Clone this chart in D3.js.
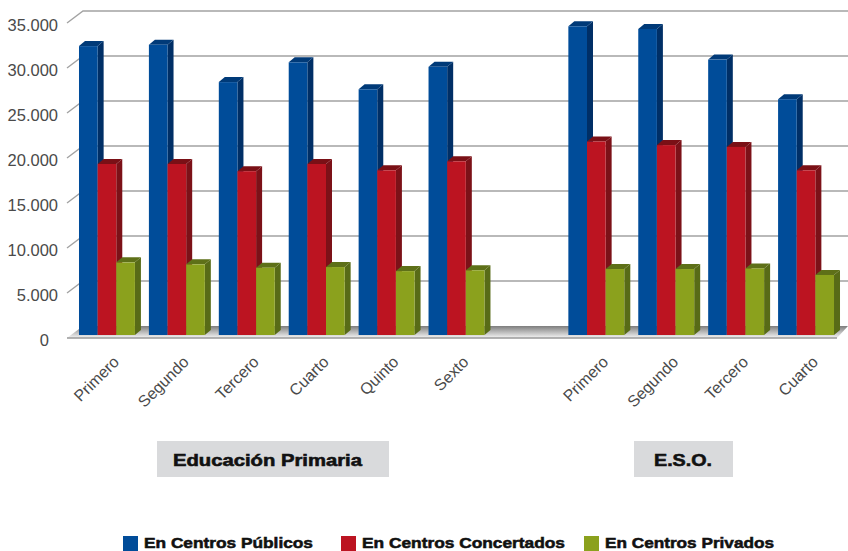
<!DOCTYPE html>
<html>
<head>
<meta charset="utf-8">
<title>Alumnado por curso</title>
<script src="https://d3js.org/d3.v7.min.js"></script>
<style>
  html, body { margin: 0; padding: 0; background: #fff; }
  svg { display: block; }
  .tick-y { font: 300 16.5px "Liberation Sans", sans-serif; fill: #4a4a4a; }
  .tick-x { font: 300 16px "Liberation Sans", sans-serif; fill: #4a4a4a; }
  .head { font: bold 17px "Liberation Sans", sans-serif; fill: #111; stroke: #111; stroke-width: .6px; }
  .leg { font: bold 15px "Liberation Sans", sans-serif; fill: #111; stroke: #111; stroke-width: .55px; }
</style>
</head>
<body>
<svg id="chart" width="848" height="551"></svg>
<script>
// a blank slot separates primaria from E.S.O.
const slots = ["p1", "p2", "p3", "p4", "p5", "p6", "gap", "e1", "e2", "e3", "e4"];
const slotLabels = ["Primero", "Segundo", "Tercero", "Cuarto", "Quinto", "Sexto", "", "Primero", "Segundo", "Tercero", "Cuarto"];
const publicos    = [32100, 32250, 28100, 30300, 27300, 29800, null, 34300, 34000, 30600, 26200];
const concertados = [19000, 19000, 18200, 19000, 18300, 19300, null, 21500, 21100, 20900, 18300];
const privados    = [8070, 7850, 7480, 7550, 7100, 7190, null, 7330, 7330, 7400, 6670];
const yTicks = [0, 5000, 10000, 15000, 20000, 25000, 30000, 35000];
const seriesNames = ["En Centros Públicos", "En Centros Concertados", "En Centros Privados"];
const seriesFront = ["#004c99", "#bc1421", "#8ba11d"];
const seriesTop   = ["#003a78", "#7a1016", "#5e7018"];
const seriesSide  = ["#002f66", "#7c1118", "#586b17"];
const groupNames = ["Educación Primaria", "E.S.O."];

const svg = d3.select("#chart");

const dx = 6, dy = 5;      // bar depth
const wallDx = 16, wallDy = 12; // floor depth

const x = d3.scaleBand().domain(slots).range([72, 841]).paddingInner(0.2).paddingOuter(0.1);
const inner = d3.scaleBand().domain([0, 1, 2]).range([0, x.bandwidth()]);
// bars stand on y0, the gridlines are on the back wall
const y = d3.scaleLinear().domain([0, 35000]).range([335, 20]);
const yBack = d3.scaleLinear().domain([0, 35000]).range([326, 11]);

const defs = svg.append("defs");
const grad = defs.append("linearGradient").attr("id", "floor").attr("x1", 0).attr("y1", 0).attr("x2", 0).attr("y2", 1);
grad.append("stop").attr("offset", 0).attr("stop-color", "#7d7d7d");
grad.append("stop").attr("offset", 0.35).attr("stop-color", "#a8a8a8");
grad.append("stop").attr("offset", 1).attr("stop-color", "#f4f4f4");

const floorLeft = 67, floorRight = 837, gridColor = "#a3a3a3";

// floor
svg.append("polygon")
  .attr("fill", "url(#floor)")
  .attr("points", [
    [floorLeft, yBack(0) + wallDy], [floorLeft + wallDx, yBack(0)],
    [floorRight + wallDx - 5, yBack(0)], [floorRight, yBack(0) + wallDy]
  ].join(" "));

// gridlines with the slanted stub at the left
svg.append("g").selectAll("path")
  .data(yTicks)
  .join("path")
  .attr("fill", "none")
  .attr("stroke", d => d === 0 ? "#999" : gridColor)
  .attr("stroke-width", 1.4)
  .attr("d", d => d === 0
    ? `M${floorLeft},${yBack(0) + wallDy}H${floorRight}`
    : `M${floorLeft},${yBack(d) + wallDy}L${floorLeft + wallDx},${yBack(d)}H848`);

svg.append("g").selectAll("text")
  .data(yTicks)
  .join("text")
  .attr("class", "tick-y")
  .attr("x", d => d === 0 ? 49 : 58)
  .attr("y", d => yBack(d) + wallDy + 8)
  .attr("text-anchor", "end")
  .text(d => d === 0 ? "0" : d3.format(",")(d).replace(",", "."));

// bars, left to right so each one covers the side of the previous
[publicos, concertados, privados].forEach((vals, s) => {
  const g = svg.append("g");
  const rows = vals.map((v, i) => ({ v, slot: slots[i] })).filter(d => d.v !== null);
  const left = d => x(d.slot) + inner(s);
  const right = d => left(d) + inner.bandwidth();
  g.selectAll("polygon.side").data(rows).join("polygon")
    .attr("class", "side")
    .attr("fill", seriesSide[s])
    .attr("points", d => [
      [right(d), y(0)], [right(d) + dx, y(0) - dy],
      [right(d) + dx, y(d.v) - dy], [right(d), y(d.v)]
    ].join(" "));
  g.selectAll("polygon.top").data(rows).join("polygon")
    .attr("class", "top")
    .attr("fill", seriesTop[s])
    .attr("points", d => [
      [left(d), y(d.v)], [left(d) + dx, y(d.v) - dy],
      [right(d) + dx, y(d.v) - dy], [right(d), y(d.v)]
    ].join(" "));
  g.selectAll("rect").data(rows).join("rect")
    .attr("fill", seriesFront[s])
    .attr("x", left)
    .attr("width", inner.bandwidth())
    .attr("y", d => y(d.v))
    .attr("height", d => y(0) - y(d.v));
});

// category labels
svg.append("g").selectAll("text")
  .data(slots.map((s, i) => ({ slot: s, label: slotLabels[i] })).filter(d => d.label))
  .join("text")
  .attr("class", "tick-x")
  .attr("text-anchor", "end")
  .attr("transform", d => `translate(${x(d.slot) + 41},363) rotate(-45)`)
  .text(d => d.label);

// group boxes, the original type is an extended face so the widths are forced
const groupBoxes = [[157, 232], [634, 99]];
const groupTextX = [173, 654];
const groupTextWidths = [189, 58];
groupNames.forEach((name, i) => {
  const [bx, bw] = groupBoxes[i];
  svg.append("rect").attr("x", bx).attr("y", 441).attr("width", bw).attr("height", 36).attr("fill", "#d9dadc");
  svg.append("text").attr("class", "head")
    .attr("x", groupTextX[i]).attr("y", 466)
    .attr("textLength", groupTextWidths[i]).attr("lengthAdjust", "spacingAndGlyphs")
    .text(name);
});

// legend
const legendX = [123, 341, 584];
const legendTextWidths = [169, 203, 169];
seriesNames.forEach((name, i) => {
  svg.append("rect").attr("x", legendX[i]).attr("y", 536).attr("width", 15).attr("height", 15).attr("fill", seriesFront[i]);
  svg.append("text").attr("class", "leg").attr("x", legendX[i] + 21).attr("y", 547.5)
    .attr("textLength", legendTextWidths[i]).attr("lengthAdjust", "spacingAndGlyphs")
    .text(name);
});
</script>
</body>
</html>
